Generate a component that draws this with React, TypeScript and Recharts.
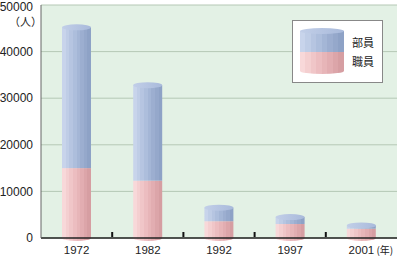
import React from 'react';
import { BarChart, Bar, XAxis, YAxis, CartesianGrid, Legend } from 'recharts';

const years = ['1972', '1982', '1992', '1997', '2001'];
const staff = [15000, 12300, 3600, 3000, 2000]; // 職員
const members = [30200, 20500, 2900, 1500, 700]; // 部員
const yTicks = [0, 10000, 20000, 30000, 40000, 50000];

const data = years.map((y, i) => ({ year: y, staff: staff[i], members: members[i] }));

const PINK = ['#f8d8d9', '#f4cfd0', '#f0c6c8', '#ecbdc0', '#e7b5b8', '#e2adb1', '#dca5a9', '#d69ea2'];
const BLUE = ['#c8d4eb', '#bfcde6', '#b6c5e1', '#adbedc', '#a4b6d6', '#9caed0', '#95a8cb', '#8ea2c6'];
const RY = 3;
const NUM_FONT = '"Liberation Sans", Arial, sans-serif';
const JP_FONT = '"Noto Sans CJK JP", sans-serif';

const Stripes = ({ id, colors }: { id: string; colors: string[] }) => (
  <linearGradient id={id} x1="0" y1="0" x2="1" y2="0">
    {colors.flatMap((c, i) => [
      <stop key={i + 'a'} offset={i / colors.length} stopColor={c} />,
      <stop key={i + 'b'} offset={(i + 1) / colors.length} stopColor={c} />,
    ])}
  </linearGradient>
);

const Defs = () => (
  <defs>
    <Stripes id="gPink" colors={PINK} />
    <Stripes id="gBlue" colors={BLUE} />
    <linearGradient id="gBlueTop" x1="0" y1="0" x2="1" y2="0">
      <stop offset="0" stopColor="#c2cfe8" />
      <stop offset="1" stopColor="#a9badb" />
    </linearGradient>
  </defs>
);

const BottomShape = (p: any) => {
  const { x, y, width, height } = p;
  if (!(height > 0)) return null;
  const rx = width / 2;
  return (
    <g>
      <ellipse cx={x + rx} cy={y + height} rx={rx} ry={RY} fill="url(#gPink)" />
      <rect x={x} y={y} width={width} height={height} fill="url(#gPink)" />
    </g>
  );
};

const TopShape = (p: any) => {
  const { x, y, width, height } = p;
  if (!(height > 0)) return null;
  const rx = width / 2;
  return (
    <g>
      <rect x={x} y={y} width={width} height={height} fill="url(#gBlue)" />
      <ellipse cx={x + rx} cy={y} rx={rx} ry={RY} fill="url(#gBlueTop)" />
    </g>
  );
};

const XTick = (p: any) => {
  const { x, y, payload, index, visibleTicksCount, width } = p;
  const half = payload && payload.offset ? payload.offset : width / visibleTicksCount / 2;
  const last = index === visibleTicksCount - 1;
  return (
    <g>
      {!last && (
        <line x1={x + half} x2={x + half} y1={y - 1} y2={y - 6} stroke="#111" strokeWidth={2} />
      )}
      <text x={x} y={y + 16} textAnchor="middle" fontSize={11.5} fontFamily={NUM_FONT} fill="#222">
        {payload.value}
      </text>
      {last && (
        <text x={x + 15} y={y + 16} fontSize={10} fontFamily={JP_FONT} fill="#222">
          (年)
        </text>
      )}
    </g>
  );
};

const YTick = (p: any) => {
  const { x, y, payload } = p;
  const cy = Math.max(y, 6.5);
  return (
    <text x={x} y={cy} dy="0.355em" textAnchor="end" fontSize={12} fontFamily={NUM_FONT} fill="#222">
      {payload.value}
    </text>
  );
};

const LegendBox = () => (
  <div
    style={{
      width: 89,
      height: 61,
      background: '#fff',
      border: '1px solid #888',
    }}
  >
    <svg width={89} height={61}>
      <Defs />
      <ellipse cx={29} cy={50} rx={22} ry={RY} fill="url(#gPink)" />
      <rect x={7} y={31} width={44} height={19} fill="url(#gPink)" />
      <rect x={7} y={10} width={44} height={21} fill="url(#gBlue)" />
      <ellipse cx={29} cy={10} rx={22} ry={RY} fill="url(#gBlueTop)" />
      <text x={59} y={26} fontSize={11} fontFamily={JP_FONT} fill="#222">部員</text>
      <text x={59} y={45} fontSize={11} fontFamily={JP_FONT} fill="#222">職員</text>
    </svg>
  </div>
);

const YLabel = (p: any) => {
  const vb = p.viewBox || {};
  return (
    <text x={vb.x + vb.width + 1} y={vb.y + 21} textAnchor="end" fontSize={11} fontFamily={JP_FONT} fill="#222">
      （人）
    </text>
  );
};

export default function App() {
  return (
    <div style={{ position: 'absolute', left: 0, top: 0 }}>
      <BarChart
        width={400}
        height={258}
        data={data}
        margin={{ top: 5, right: 3, left: 0, bottom: 0 }}
        barSize={29}
      >
        <Defs />
        <CartesianGrid vertical={false} stroke="#b5c8b5" fill="#e3f1e5" />
        <XAxis
          dataKey="year"
          height={20}
          tickLine={false}
          tickSize={0}
          tickMargin={0}
          axisLine={{ stroke: '#222', strokeWidth: 1.5 }}
          tick={<XTick />}
          interval={0}
        />
        <XAxis xAxisId="top" dataKey="year" orientation="top" height={0} tick={false} tickLine={false} axisLine={{ stroke: '#666' }} />
        <YAxis
          domain={[0, 50000]}
          ticks={yTicks}
          width={41}
          tickLine={false}
          axisLine={{ stroke: '#666' }}
          tick={<YTick />}
          label={<YLabel />}
          interval={0}
        />
        <YAxis yAxisId="right" orientation="right" width={0} domain={[0, 50000]} tick={false} tickLine={false} axisLine={{ stroke: '#666' }} />
        <Legend
          layout="vertical"
          align="center"
          verticalAlign="middle"
          content={<LegendBox />}
          wrapperStyle={{ left: 292, top: 20, width: 91, height: 63 }}
        />
        <Bar dataKey="staff" stackId="a" shape={<BottomShape />} isAnimationActive={false} />
        <Bar dataKey="members" stackId="a" shape={<TopShape />} isAnimationActive={false} />
      </BarChart>
    </div>
  );
}
